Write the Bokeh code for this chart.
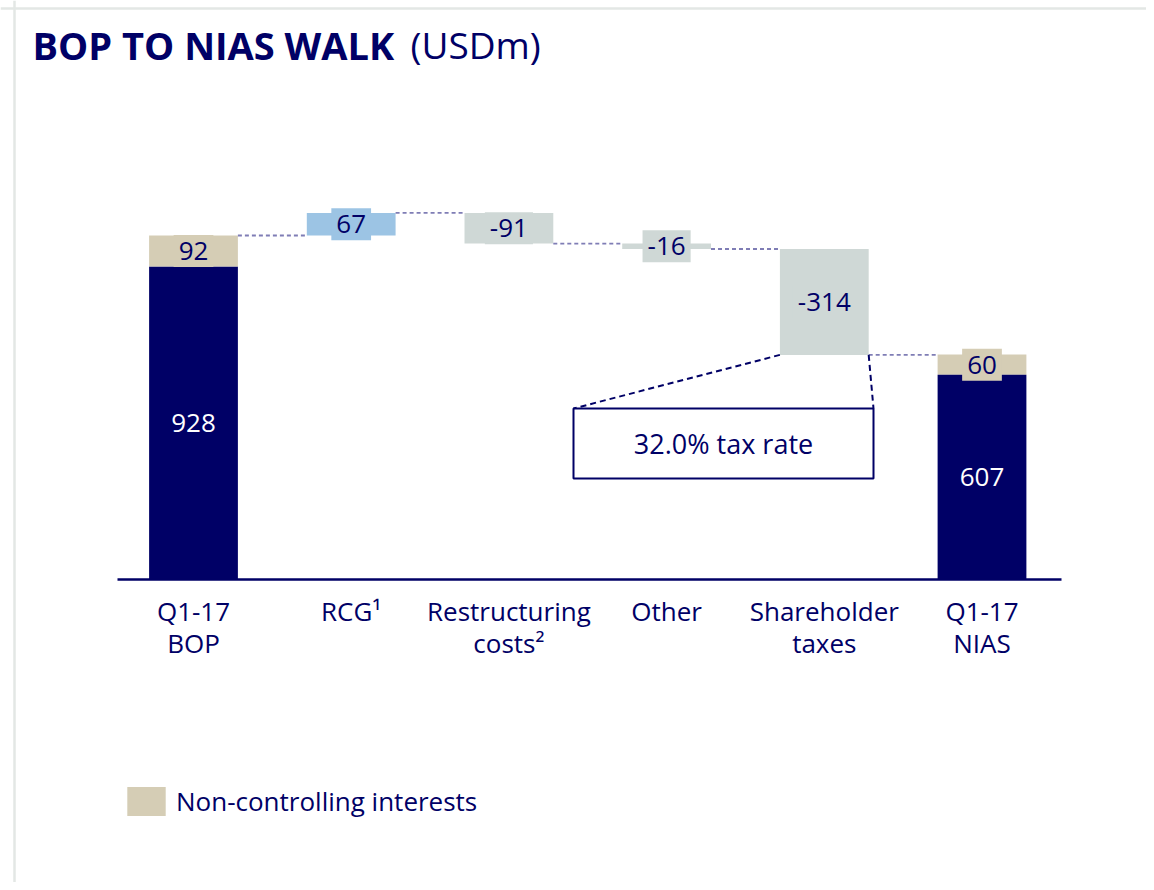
from bokeh.plotting import figure
from bokeh.models import Range1d, Legend, LegendItem, Span
from bokeh.core.properties import value
from bokeh.embed import file_html
from bokeh.resources import INLINE

# ---------------- data ----------------
categories = ["Q1-17\nBOP", "RCG\u00b9", "Restructuring\ncosts\u00b2", "Other", "Shareholder\ntaxes", "Q1-17\nNIAS"]
bop_underlying = 928
bop_nci = 92
step_values = [67, -91, -16, -314]
nias_underlying = 607
nias_nci = 60
tax_note = "32.0% tax rate"
legend_text = "Non-controlling interests"
title_bold = "BOP TO NIAS WALK"
title_unit = "(USDm)"

# ---------------- style ----------------
NAVY = "#000066"
TAN = "#D5CDB5"
BLUE = "#9CC4E4"
GREY = "#CFD8D6"
CONNECT = "#7F7DB5"
FRAME = "#E3E7E5"
FONT = "Open Sans"
FS = "26px"

W, H = 1146, 882
SX = 157.7           # px per category
S = 0.33725          # px per USDm
BASE_PX = 579        # baseline in canvas px
X0 = -193 / SX
X1 = (W - 193) / SX
Y0 = (BASE_PX - H) / S
Y1 = BASE_PX / S
BW = 0.563

def cx(px):  # canvas px -> data x
    return X0 + px / SX

def cy(py):  # canvas px -> data y
    return (BASE_PX - py) / S

p = figure(width=W, height=H, output_backend="svg", toolbar_location=None,
           x_range=Range1d(X0, X1), y_range=Range1d(Y0, Y1),
           x_axis_location=None, y_axis_location=None, min_border=0)
p.grid.visible = False
p.outline_line_color = None
p.background_fill_color = "white"
p.border_fill_color = "white"

# frame decoration
p.add_layout(Span(location=cy(8), dimension="width", line_color=FRAME, line_width=2.5))
p.add_layout(Span(location=cx(14), dimension="height", line_color=FRAME, line_width=2.5))

xs = list(range(len(categories)))

# BOP bar
p.vbar(x=[xs[0]], bottom=[0], top=[bop_underlying], width=BW, color=NAVY, line_color=None)
nci_r = p.vbar(x=[xs[0], xs[-1]], bottom=[bop_underlying, nias_underlying],
               top=[bop_underlying + bop_nci, nias_underlying + nias_nci],
               width=BW, color=TAN, line_color=None)
# NIAS bar
p.vbar(x=[xs[-1]], bottom=[0], top=[nias_underlying], width=BW, color=NAVY, line_color=None)

# steps
level = bop_underlying + bop_nci
levels = [level]
step_bottom, step_top, step_color = [], [], []
for i, v in enumerate(step_values):
    new = level + v
    step_bottom.append(min(level, new))
    step_top.append(max(level, new))
    step_color.append(BLUE if v > 0 else GREY)
    level = new
    levels.append(level)
p.vbar(x=xs[1:5], bottom=step_bottom, top=step_top, width=BW, color=step_color, line_color=None)

# connectors
cx0 = [xs[i] + BW / 2 for i in range(5)]
cx1 = [xs[i + 1] - BW / 2 for i in range(5)]
p.segment(x0=cx0, y0=levels, x1=cx1, y1=levels, line_color=CONNECT, line_width=1.8, line_dash="4 3")

# baseline
p.segment(x0=[cx(117)], y0=[0], x1=[cx(1061)], y1=[0], line_color=NAVY, line_width=2.5)

# value labels
def vlabel(x, y, txt, color, bg=None):
    kw = dict(x=[x], y=[y], text=[txt], text_align="center", text_baseline="middle",
              text_font=value(FONT), text_font_size=FS, text_color=color)
    if bg is not None:
        kw.update(background_fill_color=bg, padding=dict(left=5, right=5, top=7, bottom=7))
    p.text(**kw)

vlabel(xs[0], bop_underlying / 2, str(bop_underlying), "white")
vlabel(xs[0], bop_underlying + bop_nci / 2, str(bop_nci), NAVY, TAN)
for i, v in enumerate(step_values):
    vlabel(xs[i + 1], (step_bottom[i] + step_top[i]) / 2, str(v), NAVY, step_color[i])
vlabel(xs[-1], nias_underlying / 2, str(nias_underlying), "white")
vlabel(xs[-1], nias_underlying + nias_nci / 2, str(nias_nci), NAVY, TAN)

# category labels
p.text(x=xs, y=[0] * len(xs), text=categories, y_offset=13, text_align="center",
       text_baseline="top", text_font=value(FONT), text_font_size=FS,
       text_color=NAVY, text_line_height=0.9)

# tax box callout
tb_l, tb_r, tb_t, tb_b = cx(573), cx(873), cy(408), cy(478)
sh = 4
p.segment(x0=[sh - BW / 2, sh + BW / 2], y0=[levels[4]] * 2, x1=[tb_l, tb_r], y1=[tb_t] * 2,
          line_color=NAVY, line_width=2, line_dash="6 4")
p.quad(left=[tb_l], right=[tb_r], top=[tb_t], bottom=[tb_b], fill_color="white",
       line_color=NAVY, line_width=2)
p.text(x=[(tb_l + tb_r) / 2], y=[(tb_t + tb_b) / 2], text=[tax_note], text_align="center",
       text_baseline="middle", text_font=value(FONT), text_font_size="27px", text_color=NAVY)

# title
p.text(x=[X0], y=[Y1], text=[title_bold], x_offset=32, y_offset=44, text_baseline="alphabetic",
       text_font=value(FONT), text_font_size="38px", text_font_style="bold", text_color=NAVY)
p.text(x=[X0], y=[Y1], text=[title_unit], x_offset=410, y_offset=44, text_baseline="alphabetic",
       text_font=value(FONT), text_font_size="37px", text_color=NAVY)

# legend
legend = Legend(items=[LegendItem(label=legend_text, renderers=[nci_r])],
                location=(122, H - 819), glyph_width=48, glyph_height=36, label_height=36,
                label_standoff=6, padding=0, margin=0, border_line_color=None,
                background_fill_alpha=0, label_text_font=FONT, label_text_font_size="26px",
                label_text_color=NAVY, label_text_baseline="middle")
p.add_layout(legend)

open("out.html", "w").write(file_html(p, INLINE))
